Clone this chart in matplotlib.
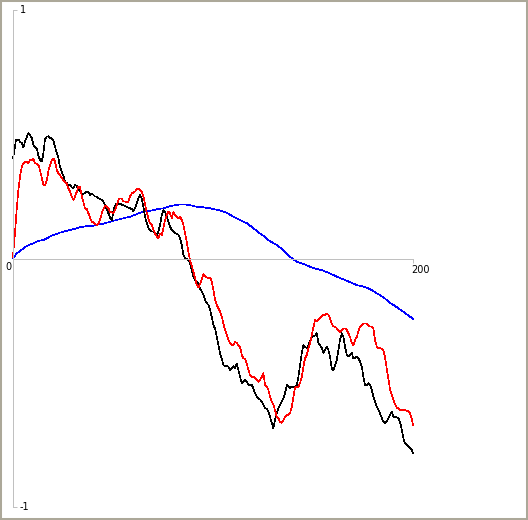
import matplotlib
matplotlib.use("Agg")
import matplotlib.pyplot as plt
from matplotlib.patches import Rectangle

# ---------------- data ----------------
black_x = [0, 1.5, 2.7, 3.5, 4.4, 5.2, 6, 6.9, 7.7, 8.5, 9.4, 10.2, 11, 11.9, 12.7, 13.5, 14.4, 15.2, 16, 16.9,
           17.7, 18.5, 19.4, 20.2, 21, 21.9, 22.7, 23.5, 24.4, 25.2, 26, 26.9, 27.7, 28.5, 29.4, 30.2, 31, 31.9, 32.7, 33.5,
           34.4, 35.2, 36, 36.9, 37.7, 38.5, 39.4, 40.2, 41, 41.9, 42.7, 43.5, 44.4, 45.2, 46, 46.9, 47.7, 48.5, 49.4, 50.2,
           51, 51.9, 52.7, 53.5, 54.4, 55.2, 56.9, 58.5, 59.4, 60.2, 61, 61.9, 62.7, 63.5, 64.4, 65.2, 66, 66.9, 67.7, 68.5,
           69.4, 70.2, 71, 71.9, 72.7, 73.5, 74.4, 75.2, 76, 76.9, 77.7, 78.5, 79.4, 80.2, 81, 81.9, 82.7, 83.5, 84.4, 85.2,
           86, 86.9, 87.7, 88.5, 89.4, 90.2, 91, 91.9, 92.7, 93.5, 94.4, 95.2, 96, 96.9, 97.7, 98.5, 99.4, 100.2, 101, 101.9,
           102.7, 103.5, 104.4, 105.2, 106, 106.9, 107.7, 108.5, 109.4, 110.2, 111, 111.9, 112.7, 113.5, 114.4, 115.2, 116, 116.9, 117.7, 118.5,
           119.4, 120.2, 121, 121.9, 122.7, 123.5, 124.4, 125.2, 126, 126.9, 127.7, 128.5, 129.4, 130.2, 131, 131.9, 132.7, 133.5, 134.4, 135.2,
           136, 136.9, 137.7, 138.5, 139.4, 140.2, 141, 141.9, 142.7, 143.5, 144.4, 145.2, 146, 146.9, 147.7, 148.5, 149.4, 150.2, 151, 151.9,
           152.7, 153.5, 154.4, 155.2, 156, 156.9, 157.7, 158.5, 159.4, 160.2, 161, 161.9, 162.7, 163.5, 164.4, 165.2, 166, 166.9, 167.7, 168.5,
           169.4, 170.2, 171, 171.9, 172.7, 173.5, 174.4, 175.2, 176, 176.9, 177.7, 178.5, 179.4, 180.2, 181, 181.9, 182.7, 183.5, 184.4, 185.2,
           186, 186.9, 187.7, 188.5, 189.4, 190.2, 191, 191.9, 192.7, 193.5, 194.4, 195.2, 196, 196.9, 197.7, 198.5, 199.4, 200]
black_y = [0.403, 0.477, 0.479, 0.470, 0.465, 0.447, 0.470, 0.490, 0.504, 0.497, 0.484, 0.457, 0.450, 0.443, 0.412, 0.398, 0.390, 0.423, 0.481, 0.490,
           0.492, 0.484, 0.484, 0.473, 0.450, 0.423, 0.404, 0.369, 0.349, 0.332, 0.309, 0.303, 0.296, 0.296, 0.286, 0.282, 0.296, 0.292, 0.276, 0.272,
           0.262, 0.260, 0.264, 0.269, 0.266, 0.256, 0.260, 0.256, 0.249, 0.249, 0.242, 0.240, 0.235, 0.229, 0.215, 0.199, 0.182, 0.165, 0.155, 0.191,
           0.213, 0.222, 0.219, 0.222, 0.215, 0.215, 0.208, 0.202, 0.199, 0.191, 0.202, 0.222, 0.242, 0.256, 0.242, 0.208, 0.168, 0.142, 0.122, 0.115,
           0.108, 0.108, 0.101, 0.095, 0.108, 0.135, 0.175, 0.195, 0.188, 0.168, 0.148, 0.128, 0.115, 0.108, 0.101, 0.101, 0.095, 0.081, 0.054, 0.014,
           0.001, -0.003, -0.006, -0.017, -0.046, -0.073, -0.087, -0.093, -0.100, -0.120, -0.134, -0.147, -0.167, -0.180, -0.187, -0.203, -0.237, -0.268, -0.281, -0.315,
           -0.348, -0.381, -0.402, -0.429, -0.433, -0.433, -0.435, -0.449, -0.442, -0.433, -0.442, -0.422, -0.449, -0.476, -0.502, -0.496, -0.489, -0.496, -0.509, -0.509,
           -0.509, -0.522, -0.542, -0.556, -0.563, -0.567, -0.576, -0.590, -0.603, -0.603, -0.616, -0.637, -0.663, -0.684, -0.650, -0.623, -0.603, -0.590, -0.576, -0.563,
           -0.542, -0.509, -0.516, -0.522, -0.516, -0.516, -0.522, -0.509, -0.476, -0.429, -0.381, -0.348, -0.355, -0.361, -0.348, -0.332, -0.315, -0.312, -0.310, -0.301,
           -0.341, -0.348, -0.361, -0.381, -0.368, -0.355, -0.368, -0.395, -0.442, -0.449, -0.429, -0.408, -0.368, -0.328, -0.301, -0.315, -0.355, -0.388, -0.395, -0.388,
           -0.381, -0.402, -0.402, -0.395, -0.402, -0.415, -0.435, -0.476, -0.509, -0.509, -0.502, -0.509, -0.529, -0.556, -0.576, -0.596, -0.610, -0.623, -0.642, -0.657,
           -0.662, -0.657, -0.643, -0.630, -0.618, -0.637, -0.637, -0.639, -0.643, -0.657, -0.690, -0.724, -0.744, -0.751, -0.757, -0.764, -0.771, -0.784]

red_x = [0, 0.5, 1, 1.9, 2.7, 3.5, 4.4, 5.2, 6, 6.9, 7.7, 8.5, 9.4, 10.2, 11, 11.9, 12.7, 13.5, 14.4, 15.2,
         16, 16.9, 17.7, 18.5, 19.4, 20.2, 21, 21.9, 22.7, 23.5, 24.4, 25.2, 26, 26.9, 27.7, 28.5, 29.4, 30.2, 31, 31.9,
         32.7, 33.5, 34.4, 35.2, 36, 36.9, 37.7, 38.5, 39.4, 40.2, 41, 41.9, 42.7, 43.5, 44.4, 45.2, 46, 46.9, 47.7, 48.5,
         49.4, 50.2, 51, 51.9, 52.7, 53.5, 54.4, 55.2, 56, 56.9, 57.7, 58.5, 59.4, 60.2, 61, 61.9, 62.7, 63.5, 64.4, 65.2,
         66, 66.9, 67.7, 68.5, 69.4, 70.2, 71, 71.9, 72.7, 73.5, 74.4, 75.2, 76, 76.9, 77.7, 78.5, 79.4, 80.2, 81, 81.9,
         82.7, 83.5, 84.4, 85.2, 86, 86.9, 87.7, 88.5, 89.4, 90.2, 91, 91.9, 92.7, 93.5, 94.4, 95.2, 96, 96.9, 97.7, 98.5,
         99.4, 100.2, 101, 101.9, 102.7, 103.5, 104.4, 105.2, 106, 106.9, 107.7, 108.5, 109.4, 110.2, 111, 111.9, 112.7, 113.5, 114.4, 115.2,
         116, 116.9, 117.7, 118.5, 119.4, 120.2, 121, 121.9, 122.7, 123.5, 124.4, 125.2, 126, 126.9, 127.7, 128.5, 129.4, 130.2, 131, 131.9,
         132.7, 133.5, 134.4, 135.2, 136, 136.9, 137.7, 138.5, 139.4, 140.2, 141, 141.9, 142.7, 143.5, 144.4, 145.2, 146, 146.9, 147.7, 148.5,
         149.4, 150.2, 151, 151.9, 152.7, 153.5, 154.4, 155.2, 156, 156.9, 157.7, 158.5, 159.4, 160.2, 161, 161.9, 162.7, 163.5, 164.4, 165.2,
         166, 166.9, 167.7, 168.5, 169.4, 170.2, 171, 171.9, 172.7, 173.5, 174.4, 175.2, 176, 176.9, 177.7, 178.5, 179.4, 180.2, 181, 181.9,
         182.7, 183.5, 184.4, 185.2, 186, 186.9, 187.7, 188.5, 189.4, 190.2, 191, 191.9, 192.7, 193.5, 194.4, 195.2, 196, 196.9, 197.7, 198.5,
         199.4, 200]
red_y = [0.007, 0.061, 0.103, 0.203, 0.276, 0.329, 0.369, 0.383, 0.390, 0.390, 0.383, 0.396, 0.396, 0.403, 0.383, 0.383, 0.376, 0.356, 0.324, 0.296,
         0.296, 0.316, 0.352, 0.376, 0.396, 0.403, 0.390, 0.356, 0.343, 0.336, 0.323, 0.316, 0.309, 0.300, 0.282, 0.269, 0.249, 0.235, 0.249, 0.269,
         0.289, 0.289, 0.249, 0.227, 0.202, 0.199, 0.182, 0.165, 0.148, 0.145, 0.139, 0.135, 0.139, 0.155, 0.182, 0.199, 0.211, 0.210, 0.202, 0.188,
         0.185, 0.183, 0.195, 0.215, 0.235, 0.242, 0.242, 0.229, 0.229, 0.227, 0.229, 0.249, 0.262, 0.266, 0.269, 0.280, 0.282, 0.276, 0.269, 0.249,
         0.222, 0.182, 0.162, 0.142, 0.135, 0.115, 0.101, 0.088, 0.081, 0.101, 0.095, 0.122, 0.155, 0.175, 0.188, 0.182, 0.162, 0.188, 0.175, 0.168,
         0.162, 0.168, 0.155, 0.135, 0.101, 0.068, 0.024, -0.006, -0.030, -0.054, -0.076, -0.107, -0.117, -0.103, -0.082, -0.062, -0.070, -0.076, -0.080, -0.076,
         -0.093, -0.127, -0.163, -0.187, -0.200, -0.214, -0.234, -0.261, -0.288, -0.308, -0.328, -0.341, -0.348, -0.348, -0.335, -0.341, -0.348, -0.355, -0.388, -0.402,
         -0.402, -0.422, -0.449, -0.469, -0.476, -0.476, -0.482, -0.489, -0.496, -0.489, -0.476, -0.462, -0.509, -0.516, -0.529, -0.556, -0.576, -0.590, -0.610, -0.637,
         -0.643, -0.657, -0.661, -0.650, -0.637, -0.630, -0.630, -0.623, -0.596, -0.556, -0.522, -0.516, -0.516, -0.502, -0.476, -0.435, -0.402, -0.388, -0.361, -0.341,
         -0.308, -0.278, -0.247, -0.254, -0.247, -0.241, -0.234, -0.227, -0.227, -0.221, -0.227, -0.241, -0.261, -0.274, -0.274, -0.281, -0.288, -0.295, -0.288, -0.281,
         -0.281, -0.288, -0.301, -0.315, -0.341, -0.348, -0.328, -0.315, -0.295, -0.274, -0.268, -0.261, -0.261, -0.261, -0.268, -0.274, -0.274, -0.281, -0.328, -0.355,
         -0.361, -0.360, -0.364, -0.372, -0.396, -0.445, -0.485, -0.525, -0.549, -0.569, -0.586, -0.600, -0.604, -0.610, -0.610, -0.610, -0.610, -0.614, -0.614, -0.623,
         -0.644, -0.670]

blue_x = [0, 1.9, 3.5, 5.2, 6.9, 8.5, 10.2, 11.9, 13.5, 15.2, 16.9, 18.5, 20.2, 21.9, 23.5, 25.2, 26.9, 28.5, 30.2, 31.9,
          33.5, 35.2, 36.9, 38.5, 40.2, 41.9, 43.5, 45.2, 46.9, 48.5, 50.2, 51.9, 55.2, 58.5, 61.9, 65.2, 68.5, 71.9, 75.2, 78.5,
          81.9, 85.2, 88.5, 91.9, 95.2, 98.5, 101.9, 103.5, 106.9, 110.2, 113.5, 116.9, 120.2, 122.7, 125.2, 127.7, 131.9, 135.2, 138.5, 141.9,
          145.2, 148.5, 151.9, 155.2, 158.5, 161.9, 165.2, 168.5, 171.9, 175.2, 178.5, 181.9, 185.2, 188.5, 191.9, 195.2, 198.5, 200]
blue_y = [0.000, 0.021, 0.030, 0.041, 0.050, 0.057, 0.061, 0.068, 0.072, 0.074, 0.081, 0.088, 0.095, 0.099, 0.104, 0.108, 0.111, 0.115, 0.118, 0.122,
          0.126, 0.128, 0.131, 0.131, 0.132, 0.135, 0.138, 0.140, 0.144, 0.148, 0.152, 0.155, 0.162, 0.168, 0.179, 0.188, 0.192, 0.198, 0.202, 0.211,
          0.216, 0.218, 0.215, 0.208, 0.206, 0.202, 0.196, 0.193, 0.184, 0.168, 0.155, 0.142, 0.122, 0.105, 0.091, 0.074, 0.054, 0.034, 0.007, -0.013,
          -0.022, -0.033, -0.042, -0.049, -0.060, -0.073, -0.084, -0.095, -0.107, -0.113, -0.123, -0.140, -0.156, -0.178, -0.196, -0.214, -0.234, -0.242]

x_ticks = [0, 200]
x_tick_labels = ["0", "200"]
y_ticks = [-1, 1]
y_tick_labels = ["-1", "1"]

# ---------------- figure ----------------
W, H = 528, 520
fig = plt.figure(figsize=(W / 100, H / 100), dpi=100)
fig.patch.set_facecolor("white")
ax = fig.add_axes([13 / W, 13 / H, 400 / W, 497 / H])
ax.set_xlim(0, 200)
ax.set_ylim(-1, 1)
ax.patch.set_alpha(0)

axis_col = "#c0c0c0"
for s in ("top", "right"):
    ax.spines[s].set_visible(False)
ax.spines["left"].set_color(axis_col)
ax.spines["bottom"].set_color(axis_col)
ax.spines["bottom"].set_position(("data", 0))
ax.spines["left"].set_linewidth(0.72)
ax.spines["bottom"].set_linewidth(0.72)

ax.set_xticks(x_ticks)
ax.set_yticks(y_ticks)
ax.set_xticklabels([])
ax.set_yticklabels([])
ax.tick_params(axis="y", direction="in", length=3, width=0.72, color=axis_col)
ax.tick_params(axis="x", direction="out", length=3, width=0.72, color=axis_col)

lw = 0.45
ax.plot(blue_x, blue_y, color="#0000ff", lw=lw, antialiased=False, clip_on=False)
ax.plot(black_x, black_y, color="#000000", lw=lw, antialiased=False, clip_on=False)
ax.plot(red_x, red_y, color="#ff0000", lw=lw, antialiased=False, clip_on=False)

fs = 7
for v, lab in zip(y_ticks, y_tick_labels):
    ax.annotate(lab, xy=(0, v), xytext=(5, 0), textcoords="offset points",
                ha="left", va="center", fontsize=fs, color="black")
ax.annotate(x_tick_labels[0], xy=(x_ticks[0], 0), xytext=(-1, -2.5), textcoords="offset points",
            ha="right", va="top", fontsize=fs, color="black")
ax.annotate(x_tick_labels[1], xy=(x_ticks[1], 0), xytext=(-1, -4.5), textcoords="offset points",
            ha="left", va="top", fontsize=fs, color="black")

fig.patches.append(Rectangle((0, 0), 1, 1, transform=fig.transFigure, fill=False,
                             edgecolor="#aca899", linewidth=2.9))

fig.savefig("out.png", dpi=100)
